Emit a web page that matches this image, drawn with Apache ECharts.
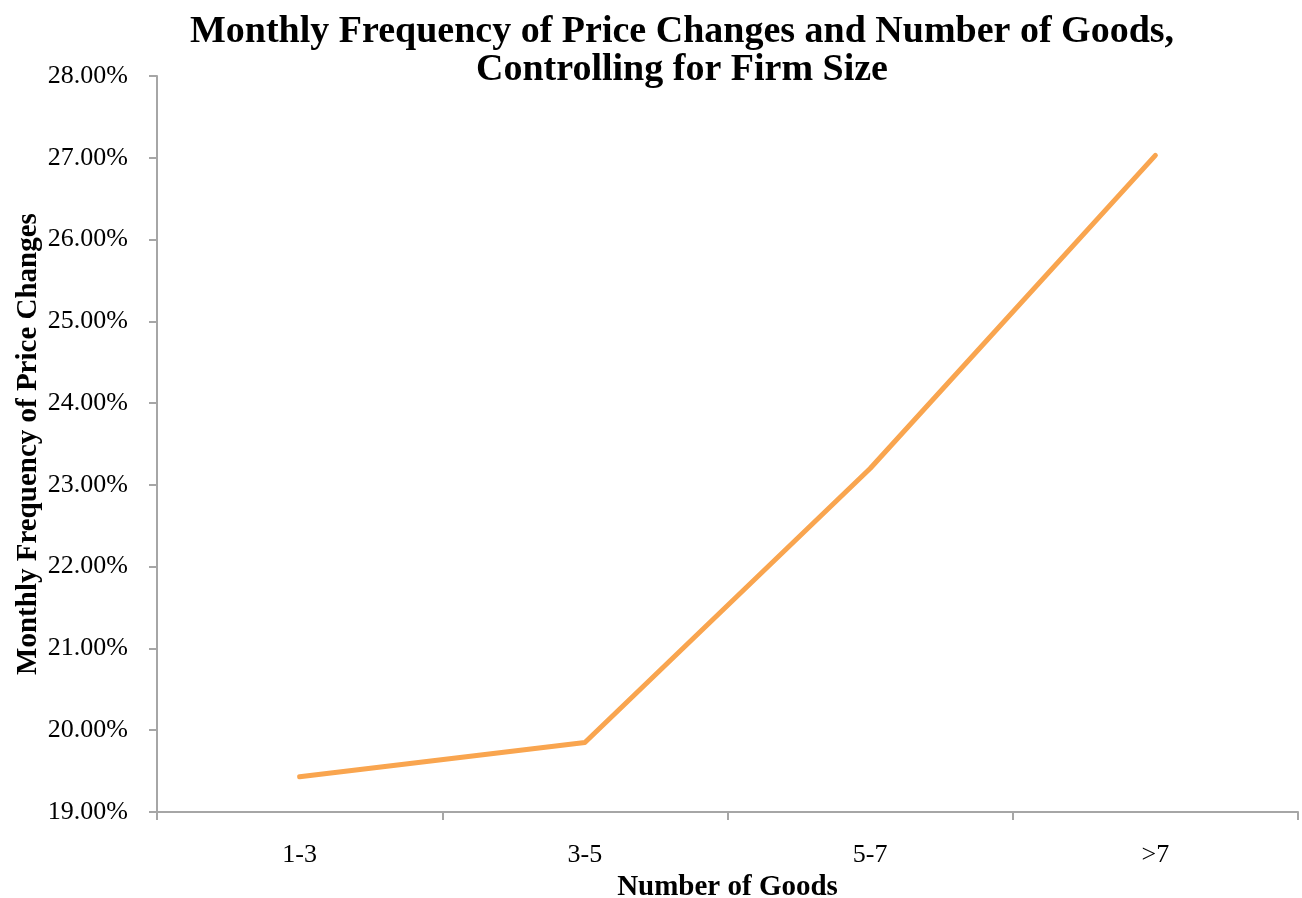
<!DOCTYPE html>
<html>
<head>
<meta charset="utf-8">
<script src="https://cdn.jsdelivr.net/npm/echarts@6/dist/echarts.min.js"></script>
<style>
  html, body { margin: 0; padding: 0; background: #fff; }
  #chart { width: 1302px; height: 898px; }
</style>
</head>
<body>
<div id="chart"></div>
<script>
  // data
  var categories = ["1-3", "3-5", "5-7", ">7"];
  var freqValues = [19.43, 19.85, 23.20, 27.03];

  var serif = "'Liberation Serif', 'DejaVu Serif', serif";

  var option = {
    animation: false,
    backgroundColor: "#ffffff",
    title: {
      text: "Monthly Frequency of Price Changes and Number of Goods,\nControlling for Firm Size",
      left: 677,
      textAlign: "center",
      top: 8,
      textStyle: {
        fontFamily: serif,
        fontWeight: "bold",
        fontSize: 38,
        lineHeight: 38,
        color: "#000"
      }
    },
    grid: {
      left: 157,
      right: 4,
      top: 76,
      bottom: 86,
      containLabel: false,
      outerBoundsMode: "none"
    },
    xAxis: {
      type: "category",
      data: categories,
      boundaryGap: true,
      name: "Number of Goods",
      nameLocation: "middle",
      nameGap: 53,
      nameTextStyle: {
        fontFamily: serif,
        fontWeight: "bold",
        fontSize: 29,
        color: "#000"
      },
      axisLine: { lineStyle: { color: "#a6a6a6", width: 2 } },
      axisTick: { show: true, length: 8, lineStyle: { color: "#a6a6a6", width: 2 } },
      axisLabel: {
        margin: 30,
        fontFamily: serif,
        fontSize: 26,
        color: "#000"
      },
      splitLine: { show: false }
    },
    yAxis: {
      type: "value",
      min: 19,
      max: 28,
      interval: 1,
      name: "Monthly Frequency of Price Changes",
      nameLocation: "middle",
      nameRotate: 90,
      nameGap: 114,
      nameMoveOverlap: false,
      nameTextStyle: {
        fontFamily: serif,
        fontWeight: "bold",
        fontSize: 29,
        color: "#000"
      },
      axisLine: { show: true, lineStyle: { color: "#a6a6a6", width: 2 } },
      axisTick: { show: true, length: 8, lineStyle: { color: "#a6a6a6", width: 2 } },
      axisLabel: {
        margin: 29,
        fontFamily: serif,
        fontSize: 26,
        color: "#000",
        formatter: function (v) { return v.toFixed(2) + "%"; }
      },
      splitLine: { show: false }
    },
    series: [{
      type: "line",
      data: freqValues,
      symbol: "none",
      lineStyle: { color: "#f9a54f", width: 5, cap: "round", join: "round" }
    }]
  };

  var myChart = echarts.init(document.getElementById("chart"));
  myChart.setOption(option);
</script>
</body>
</html>
